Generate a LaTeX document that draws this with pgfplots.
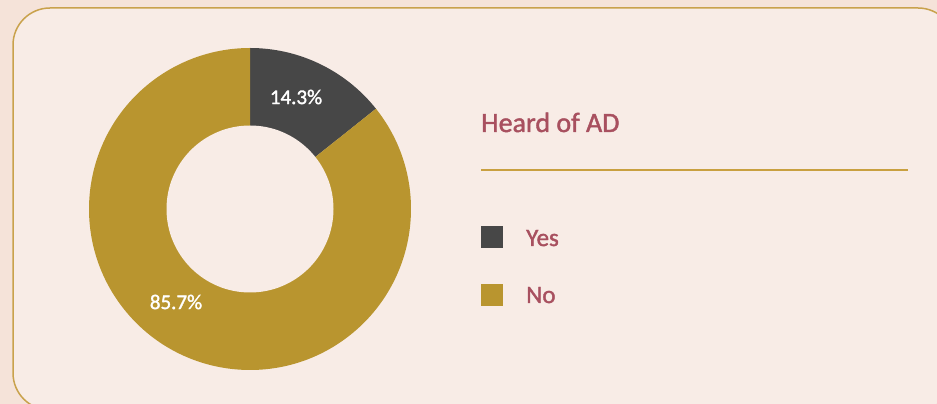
\documentclass[border=0pt]{standalone}
\usepackage{pgfplots}
\pgfplotsset{compat=1.18}
\usepackage{pgfplotstable}
\usepackage{fontspec}
\setmainfont{Carlito}
\newfontfamily\medfont{Carlito}[FakeBold=1.5]
\definecolor{outerbg}{HTML}{F5E3D9}
\definecolor{innerbg}{HTML}{F8ECE6}
\definecolor{bordercol}{HTML}{C9A24C}
\definecolor{yescol}{HTML}{474747}
\definecolor{nocol}{HTML}{B9952F}
\definecolor{titlecol}{HTML}{A8505F}
\definecolor{linecol}{HTML}{C9A040}
\pgfplotstableread{
label value
Yes 14.3
No 85.7
}\piedata
\begin{document}
\begin{tikzpicture}
\pgfplotstablegetelem{0}{value}\of\piedata \let\yesv\pgfplotsretval
\pgfplotstablegetelem{1}{value}\of\piedata \let\nov\pgfplotsretval
\pgfmathsetmacro\ea{90-3.6*\yesv}
\pgfmathsetmacro\eb{\ea-3.6*\nov}
\clip (0,0) rectangle (937pt,404pt);
\fill[outerbg] (0,0) rectangle (937pt,404pt);
\draw[bordercol, line width=1.5pt, fill=innerbg, rounded corners=37pt] (13pt,-6pt) rectangle (955pt,396pt);
\begin{axis}[at={(0,0)}, anchor=south west, scale only axis, width=937pt, height=404pt,
  xmin=0, xmax=937, ymin=0, ymax=404, hide axis, clip=false]
\fill[yescol] (axis cs:250,195) -- ++(90:161pt) arc[start angle=90, end angle=\ea, radius=161pt] -- cycle;
\fill[nocol] (axis cs:250,195) -- ++(\ea:161pt) arc[start angle=\ea, end angle=\eb, radius=161pt] -- cycle;
\fill[innerbg] (axis cs:250,195) circle[radius=83.5pt];
\node[white, font=\medfont\fontsize{21}{24}\selectfont] at (axis cs:296,307) {\yesv\%};
\node[white, font=\medfont\fontsize{21}{24}\selectfont] at (axis cs:176,102) {\nov\%};
\node[titlecol, anchor=base west, inner sep=0pt, font=\medfont\fontsize{28}{32}\selectfont] at (axis cs:481,272) {Heard of AD};
\draw[linecol, line width=1.5pt] (axis cs:481,234) -- (axis cs:908,234);
\fill[yescol] (axis cs:481,156) rectangle (axis cs:503,178);
\fill[nocol] (axis cs:481,98) rectangle (axis cs:503,120);
\node[titlecol, anchor=base west, inner sep=0pt, font=\medfont\fontsize{25}{30}\selectfont] at (axis cs:526,158) {Yes};
\node[titlecol, anchor=base west, inner sep=0pt, font=\medfont\fontsize{25}{30}\selectfont] at (axis cs:526,101) {No};
\end{axis}
\end{tikzpicture}
\end{document}
